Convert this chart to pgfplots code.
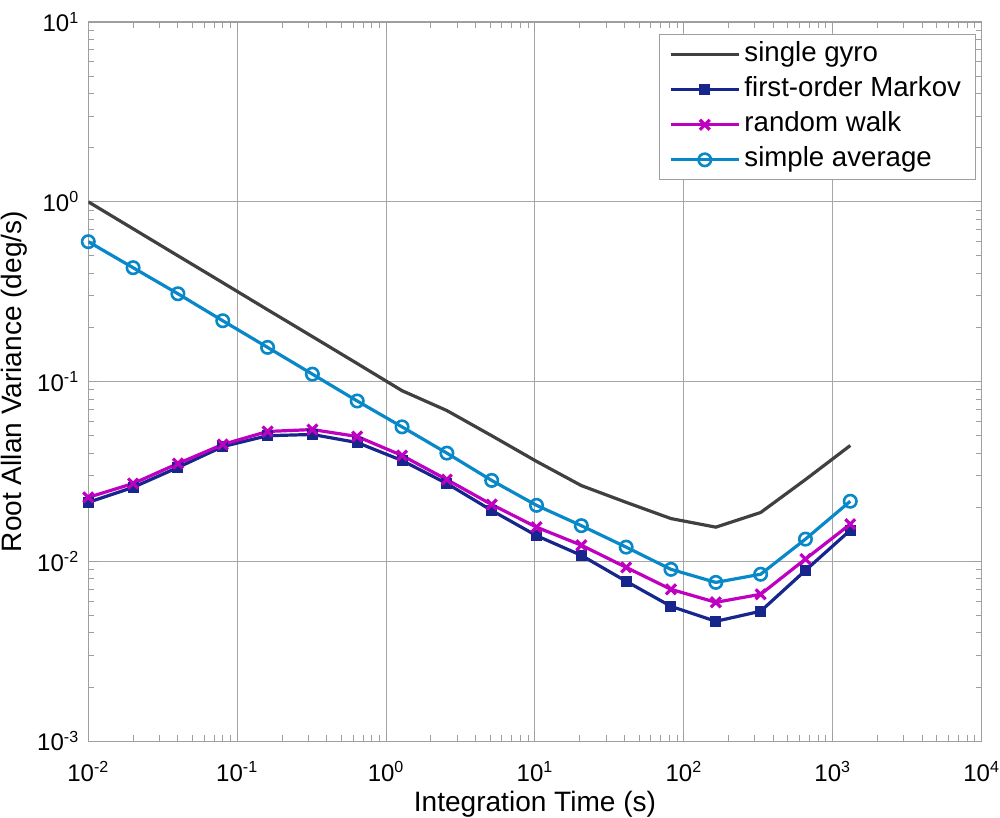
\documentclass[border=0pt]{standalone}
\usepackage{fontspec}
\setmainfont{Liberation Sans}
\usepackage{pgfplots}
\usepackage{pgfplotstable}
\pgfplotsset{compat=1.18}

\definecolor{gyro}{RGB}{64,64,64}
\definecolor{markov}{RGB}{22,38,140}
\definecolor{rwalk}{RGB}{192,0,192}
\definecolor{savg}{RGB}{8,136,200}

% tau = 0.01*2^k, k = 0..17
\pgfplotstableread{
x        gyro    markov   rwalk    savg
0.01     1.000   0.0213   0.0227   0.600
0.02     0.708   0.0258   0.0271   0.430
0.04     0.501   0.0333   0.0350   0.308
0.08     0.355   0.0435   0.0447   0.218
0.16     0.251   0.0500   0.0528   0.155
0.32     0.178   0.0508   0.0541   0.110
0.64     0.126   0.0458   0.0495   0.078
1.28     0.089   0.0364   0.0388   0.056
2.56     0.069   0.0271   0.0285   0.040
5.12     0.050   0.0192   0.0207   0.0282
10.24    0.036   0.0139   0.0155   0.0205
20.48    0.0264  0.0108   0.0123   0.0158
40.96    0.0213  0.00775  0.00926  0.0120
81.92    0.0173  0.00562  0.00699  0.00903
163.84   0.0155  0.00464  0.00592  0.00764
327.68   0.0187  0.00528  0.00656  0.00848
655.36   0.0285  0.00891  0.0103   0.0133
1310.72  0.0441  0.0149   0.0161   0.0216
}\allan

\begin{document}
\begin{tikzpicture}
\begin{loglogaxis}[
  scale only axis, width=446pt, height=359pt,
  xmin=1e-2, xmax=1e4, ymin=1e-3, ymax=1e1,
  xtick={1e-2,1e-1,1,1e1,1e2,1e3,1e4},
  xticklabels={10\textsuperscript{-2},10\textsuperscript{-1},10\textsuperscript{0},10\textsuperscript{1},10\textsuperscript{2},10\textsuperscript{3},10\textsuperscript{4}},
  ytick={1e-3,1e-2,1e-1,1,1e1},
  yticklabels={10\textsuperscript{-3},10\textsuperscript{-2},10\textsuperscript{-1},10\textsuperscript{0},10\textsuperscript{1}},
  grid=major,
  major grid style={gray!70, line width=0.5pt},
  axis line style={gray!75, line width=0.6pt},
  tick style={gray!75, line width=0.5pt},
  major tick length=5pt, minor tick length=3pt,
  tick label style={font=\fontsize{12}{14}\selectfont},
  xticklabel style={yshift=-6.5pt, inner xsep=0pt},
  yticklabel style={xshift=-1pt, inner ysep=6pt},
  xlabel={Integration Time (s)},
  ylabel={Root Allan Variance (deg/s)},
  label style={font=\fontsize{14}{16}\selectfont},
  ylabel style={inner ysep=0.5pt}, ylabel shift=1pt,
  xlabel style={inner ysep=0pt}, xlabel shift=1.5pt,
  legend style={at={(0.993,0.983)}, anchor=north east, draw=gray!75,
    font=\fontsize{13.8}{15}\selectfont,
    nodes={inner xsep=2pt, inner ysep=1pt, text height=10.5pt, text depth=3.5pt},
    row sep=1.5pt, inner xsep=5pt, inner ysep=2pt},
  legend cell align=left,
  legend image code/.code={\draw[mark repeat=2,mark phase=2,#1]
    plot coordinates {(0pt,0pt) (17pt,0pt) (34pt,0pt)};},
  every axis plot/.append style={line width=1.6pt},
]
\addplot[gyro, no markers] table[x=x, y=gyro] {\allan};
\addplot[markov, mark=square*, mark size=2.5pt, mark options={solid, line width=0.5pt}] table[x=x, y=markov] {\allan};
\addplot[rwalk, mark=x, mark size=3.5pt, mark options={solid, line width=1.6pt}] table[x=x, y=rwalk] {\allan};
\addplot[savg, mark=o, mark size=3.1pt, mark options={solid, line width=1.3pt}] table[x=x, y=savg] {\allan};
\legend{single gyro\hspace{5pt}, first-order Markov\hspace{5pt}, random walk\hspace{5pt}, simple average\hspace{5pt}}
\end{loglogaxis}
\end{tikzpicture}
\end{document}
